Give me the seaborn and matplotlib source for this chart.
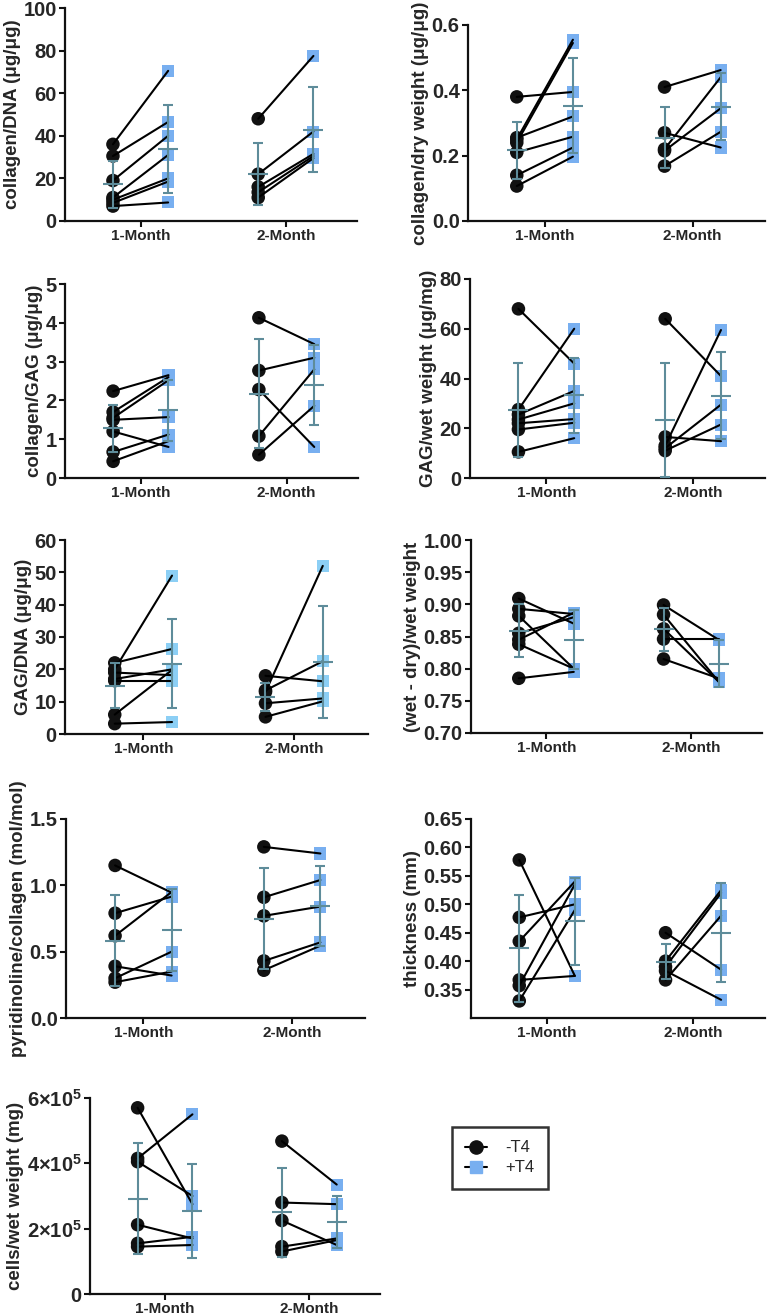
import numpy as np
import pandas as pd
import matplotlib
matplotlib.use("Agg")
import matplotlib.pyplot as plt
from matplotlib.lines import Line2D
import seaborn as sns

# ---- data (each list: [1-Month values, 2-Month values]) ----
months = ["1-Month", "2-Month"]
groups = ["-T4", "+T4"]

coll_dna_neg = [[36, 30.5, 19, 11, 10, 8.5, 7], [48, 22, 16, 13.5, 11]]
coll_dna_pos = [[70.5, 46.5, 40, 31, 20, 18.5, 8.7], [77.5, 42, 31.5, 30.5, 29.5]]
coll_dna_mean = [[17.2, 33.8], [22.1, 42.8]]
coll_dna_sd = [[11.0, 20.7], [14.7, 19.9]]

coll_dry_neg = [[0.38, 0.25, 0.24, 0.255, 0.21, 0.14, 0.107], [0.41, 0.27, 0.22, 0.215, 0.168]]
coll_dry_pos = [[0.395, 0.555, 0.545, 0.32, 0.258, 0.225, 0.197], [0.462, 0.225, 0.44, 0.345, 0.273]]
coll_dry_mean = [[0.217, 0.353], [0.255, 0.35]]
coll_dry_sd = [[0.087, 0.145], [0.093, 0.102]]

coll_gag_neg = [[2.24, 1.7, 1.55, 1.5, 1.2, 0.67, 0.43], [4.13, 2.77, 2.28, 1.08, 0.6]]
coll_gag_pos = [[2.65, 2.6, 2.52, 1.57, 0.8, 1.12, 0.95], [3.45, 3.1, 0.8, 2.8, 1.86]]
coll_gag_mean = [[1.28, 1.74], [2.17, 2.4]]
coll_gag_sd = [[0.6, 0.79], [1.4, 1.04]]

gag_wet_neg = [[68, 27.5, 25.5, 23.5, 22, 19.5, 10.5], [64, 13, 16.5, 12, 11]]
gag_wet_pos = [[46, 60, 35, 30, 23.7, 22.2, 16], [41, 59.5, 14.8, 29.5, 21.5]]
gag_wet_mean = [[27.5, 33.3], [23.5, 33.1]]
gag_wet_sd = [[18.9, 15.1], [22.9, 17.4]]

gag_dna_neg = [[22, 20, 19, 17, 16.5, 6, 3.2], [13, 18, 13.5, 9.5, 5.3]]
gag_dna_pos = [[26.3, 49, 18.2, 20, 16.5, 19.8, 3.7], [52, 16.3, 22.5, 11, 10.1]]
gag_dna_mean = [[15.0, 21.8], [11.5, 22.4]]
gag_dna_sd = [[7.1, 13.8], [4.4, 17.3]]

wet_dry_neg = [[0.909, 0.893, 0.882, 0.855, 0.845, 0.838, 0.785], [0.899, 0.884, 0.862, 0.846, 0.815]]
wet_dry_pos = [[0.870, 0.885, 0.800, 0.880, 0.887, 0.800, 0.795], [0.845, 0.78, 0.78, 0.846, 0.785]]
wet_dry_mean = [[0.859, 0.845], [0.861, 0.808]]
wet_dry_sd = [[0.041, 0.046], [0.034, 0.037]]

pyr_neg = [[1.15, 0.79, 0.62, 0.39, 0.30, 0.27], [1.29, 0.91, 0.77, 0.43, 0.36]]
pyr_pos = [[0.945, 0.915, 0.95, 0.32, 0.50, 0.35], [1.24, 1.04, 0.84, 0.57, 0.545]]
pyr_mean = [[0.584, 0.665], [0.75, 0.846]]
pyr_sd = [[0.34, 0.31], [0.377, 0.30]]

thick_neg = [[0.578, 0.477, 0.435, 0.367, 0.357, 0.33], [0.45, 0.40, 0.39, 0.383, 0.367]]
thick_pos = [[0.374, 0.50, 0.54, 0.374, 0.535, 0.49], [0.385, 0.525, 0.52, 0.332, 0.48]]
thick_mean = [[0.423, 0.47], [0.399, 0.45]]
thick_sd = [[0.094, 0.077], [0.031, 0.087]]

cells_neg = [[5.7e5, 4.15e5, 4.05e5, 2.12e5, 1.55e5, 1.45e5], [4.68e5, 2.8e5, 2.25e5, 1.45e5, 1.3e5]]
cells_pos = [[2.75e5, 5.5e5, 3.0e5, 1.7e5, 1.75e5, 1.5e5], [3.35e5, 2.75e5, 1.5e5, 1.7e5, 1.65e5]]
cells_mean = [[2.92e5, 2.54e5], [2.5e5, 2.2e5]]
cells_sd = [[1.71e5, 1.44e5], [1.37e5, 0.8e5]]

# ---- style ----
sns.set_style("ticks")
plt.rcParams["font.family"] = ["Liberation Sans", "DejaVu Sans"]
plt.rcParams["mathtext.default"] = "regular"

BLUE = "#78aff0"
ERR = "#5e8c9a"
OFF = 0.19
W, H = 771, 1316

fig = plt.figure(figsize=(W / 100, H / 100), dpi=100)


def make_ax(left, right, top, bottom):
    return fig.add_axes([left / W, 1 - bottom / H, (right - left) / W, (bottom - top) / H])


def long_df(neg, pos):
    rows = []
    for mi, m in enumerate(months):
        for pi, (a, b) in enumerate(zip(neg[mi], pos[mi])):
            rows.append((m, "-T4", f"{m}-{pi}", mi - OFF, a))
            rows.append((m, "+T4", f"{m}-{pi}", mi + OFF, b))
    return pd.DataFrame(rows, columns=["month", "group", "pair", "x", "value"])


def panel(rect, neg, pos, mean, sd, ylabel, ylim, yticks, ticklabels, blue=BLUE):
    ax = make_ax(*rect)
    df = long_df(neg, pos)
    sns.scatterplot(data=df, x="x", y="value", hue="group", style="group",
                    markers={"-T4": "o", "+T4": "s"},
                    palette={"-T4": "#111111", "+T4": blue},
                    size="group", sizes={"-T4": 95, "+T4": 75},
                    edgecolor="none", linewidth=0, legend=False, ax=ax, zorder=2)
    sns.lineplot(data=df, x="x", y="value", units="pair", estimator=None,
                 color="black", linewidth=1.5, ax=ax, zorder=3)
    for mi in range(2):
        ax.errorbar([mi - OFF, mi + OFF], mean[mi], yerr=sd[mi], fmt="_",
                    color=ERR, ecolor=ERR, markersize=15, mew=1.5,
                    elinewidth=1.5, capsize=3.8, capthick=1.5, zorder=4)
    ax.set_xlim(-0.52, 1.49)
    ax.set_ylim(*ylim)
    ax.set_xticks([0, 1])
    ax.set_xticklabels(months, fontsize=11, fontweight="bold")
    ax.set_yticks(yticks)
    ax.set_yticklabels(ticklabels, fontsize=14.5, fontweight="bold")
    ax.set_xlabel("")
    ax.set_ylabel(ylabel, fontsize=13.5, fontweight="bold", labelpad=2)
    for s in ["top", "right"]:
        ax.spines[s].set_visible(False)
    for s in ["left", "bottom"]:
        ax.spines[s].set_linewidth(1.6)
        ax.spines[s].set_color("#111111")
    ax.tick_params(width=1.5, length=4.5, color="#111111", pad=1.5)
    ax.set_facecolor("white")
    return ax


panel((65, 357, 8, 221), coll_dna_neg, coll_dna_pos, coll_dna_mean, coll_dna_sd,
      "collagen/DNA (μg/μg)", (0, 100), [0, 20, 40, 60, 80, 100],
      ["0", "20", "40", "60", "80", "100"])
panel((468, 765, 25, 221), coll_dry_neg, coll_dry_pos, coll_dry_mean, coll_dry_sd,
      "collagen/dry weight (μg/μg)", (0, 0.6), [0, 0.2, 0.4, 0.6],
      ["0.0", "0.2", "0.4", "0.6"])
panel((65, 358, 284, 478), coll_gag_neg, coll_gag_pos, coll_gag_mean, coll_gag_sd,
      "collagen/GAG (μg/μg)", (0, 5), [0, 1, 2, 3, 4, 5],
      ["0", "1", "2", "3", "4", "5"])
panel((470, 765, 279, 478), gag_wet_neg, gag_wet_pos, gag_wet_mean, gag_wet_sd,
      "GAG/wet weight (μg/mg)", (0, 80), [0, 20, 40, 60, 80],
      ["0", "20", "40", "60", "80"])
panel((65, 368, 540, 734), gag_dna_neg, gag_dna_pos, gag_dna_mean, gag_dna_sd,
      "GAG/DNA (μg/μg)", (0, 60), [0, 10, 20, 30, 40, 50, 60],
      ["0", "10", "20", "30", "40", "50", "60"], blue="#8ccff5")
panel((471, 762, 540, 733), wet_dry_neg, wet_dry_pos, wet_dry_mean, wet_dry_sd,
      "(wet - dry)/wet weight", (0.70, 1.00),
      [0.70, 0.75, 0.80, 0.85, 0.90, 0.95, 1.00],
      ["0.70", "0.75", "0.80", "0.85", "0.90", "0.95", "1.00"])
panel((66, 365, 819, 1018), pyr_neg, pyr_pos, pyr_mean, pyr_sd,
      "pyridinoline/collagen (mol/mol)", (0, 1.5), [0, 0.5, 1.0, 1.5],
      ["0.0", "0.5", "1.0", "1.5"])
panel((471, 765, 819, 1018), thick_neg, thick_pos, thick_mean, thick_sd,
      "thickness (mm)", (0.30, 0.65),
      [0.35, 0.40, 0.45, 0.50, 0.55, 0.60, 0.65],
      ["0.35", "0.40", "0.45", "0.50", "0.55", "0.60", "0.65"])
panel((90, 380, 1098, 1294), cells_neg, cells_pos, cells_mean, cells_sd,
      "cells/wet weight (mg)", (0, 6e5), [0, 2e5, 4e5, 6e5],
      ["0", "2×10$^5$", "4×10$^5$", "6×10$^5$"])

# legend
handles = [
    Line2D([], [], color="black", lw=1.5, marker="o", markersize=9.5,
           markerfacecolor="#111111", markeredgecolor="#111111"),
    Line2D([], [], color="black", lw=1.5, marker="s", markersize=8.5,
           markerfacecolor=BLUE, markeredgecolor=BLUE),
]
leg = fig.legend(handles, groups, loc="upper left",
                 bbox_to_anchor=(452 / W, 1 - 1127 / H), borderaxespad=0,
                 frameon=True, fancybox=False, fontsize=12, handlelength=1.3,
                 borderpad=0.8, labelspacing=0.3, handletextpad=1.1)
leg.get_frame().set_edgecolor("black")
leg.get_frame().set_linewidth(1.8)

fig.savefig("out.png", dpi=100, facecolor="white")
